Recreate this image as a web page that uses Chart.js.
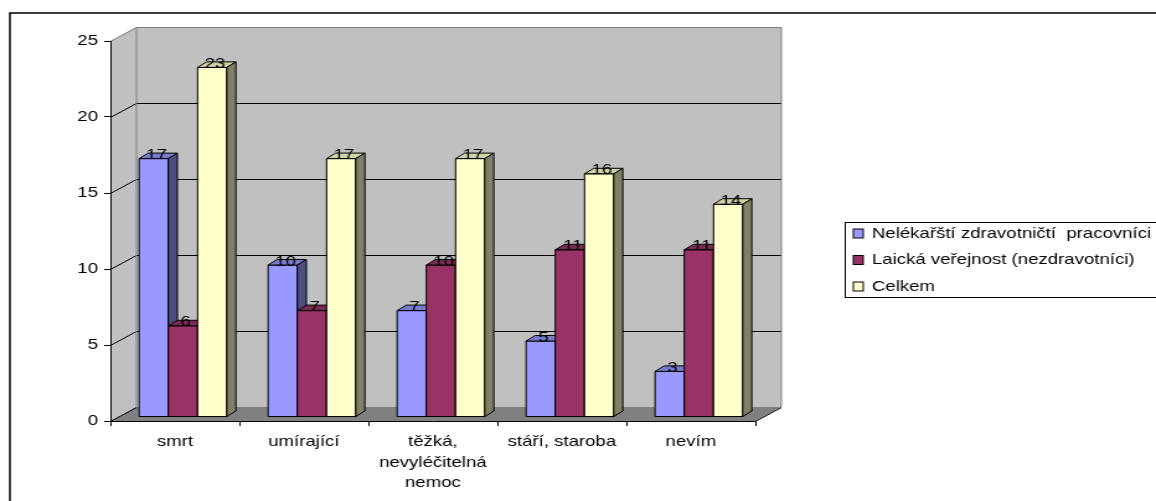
<!DOCTYPE html>
<html lang="cs">
<head>
<meta charset="utf-8">
<title>Asociace</title>
<script src="https://cdn.jsdelivr.net/npm/chart.js@4/dist/chart.umd.min.js"></script>
<style>
  html, body { margin: 0; padding: 0; background: #fff; overflow: hidden; }
  /* the chart is laid out on a narrower canvas and widened to the window */
  #wrap { width: 932px; height: 501px; transform: scaleX(1.2403); transform-origin: 0 0; }
  canvas { display: block; }
</style>
</head>
<body>
<div id="wrap"><canvas id="c" width="932" height="501"></canvas></div>
<script>
// ---- data ----
const categories = ['smrt', 'umírající', ['těžká,', 'nevyléčitelná', 'nemoc'], 'stáří, staroba', 'nevím'];
const seriesNames = ['Nelékařští zdravotničtí  pracovníci', 'Laická veřejnost (nezdravotníci)', 'Celkem'];
const zdravotnici = [17, 10, 7, 5, 3];
const verejnost = [6, 7, 10, 11, 11];
const celkem = [23, 17, 17, 16, 14];
const yTicks = [0, 5, 10, 15, 20, 25];

// ---- styling ----
const FONT = "'Liberation Sans', Arial, Helvetica, sans-serif";
const frontColors = ['#9999ff', '#993366', '#ffffcc'];
const topColors = ['#7a7acc', '#7a2952', '#d2d2a8'];
const sideColors = ['#4d4d80', '#4d1a33', '#808066'];
const WALL = { dx: 21, dy: -14 };       // depth of the plot box
const SHIFT = { dx: 6.5, dy: -4 };      // bars stand a little behind the front edge
const DEPTH = { dx: 7.3, dy: -5.5 };    // depth of a single column

function poly(ctx, pts, fill, stroke) {
  ctx.beginPath();
  ctx.moveTo(pts[0][0], pts[0][1]);
  for (let i = 1; i < pts.length; i++) ctx.lineTo(pts[i][0], pts[i][1]);
  ctx.closePath();
  if (fill) { ctx.fillStyle = fill; ctx.fill(); }
  if (stroke) { ctx.strokeStyle = stroke; ctx.lineWidth = 1; ctx.stroke(); }
}
function line(ctx, x1, y1, x2, y2, color) {
  ctx.beginPath();
  ctx.moveTo(x1, y1);
  ctx.lineTo(x2, y2);
  ctx.strokeStyle = color;
  ctx.lineWidth = 1;
  ctx.stroke();
}

const box3d = {
  id: 'box3d',
  beforeDraw(chart) {
    const { ctx, scales: { x, y } } = chart;
    const L = x.left, R = x.right;
    const T = y.getPixelForValue(yTicks[yTicks.length - 1]);
    const B = y.getPixelForValue(0);
    const dx = WALL.dx, dy = WALL.dy;
    ctx.save();
    ctx.fillStyle = '#fff';
    ctx.fillRect(0, 0, chart.width, chart.height);
    // frame around the whole chart
    ctx.strokeStyle = '#000';
    ctx.lineWidth = 1.5;
    ctx.strokeRect(8, 13, chart.width + 50, chart.height + 50);
    // walls and floor
    ctx.fillStyle = '#c0c0c0';
    ctx.fillRect(L + dx, T + dy, R - L, B - T);
    poly(ctx, [[L, T], [L + dx, T + dy], [L + dx, B + dy], [L, B]], '#c0c0c0');
    poly(ctx, [[L, B], [R, B], [R + dx, B + dy], [L + dx, B + dy]], '#808080');
    // grid lines on the back and side walls
    yTicks.forEach(v => {
      const py = Math.round(y.getPixelForValue(v)) + 0.5;
      if (v > 0 && v < yTicks[yTicks.length - 1]) {
        line(ctx, L + dx, py + dy, R + dx, py + dy, '#000');
        line(ctx, L, py, L + dx, py + dy, '#000');
      }
    });
    // wall edges
    const tp = Math.round(T) + 0.5;
    line(ctx, L + dx, tp + dy, R + dx, tp + dy, '#808080');
    line(ctx, L, tp, L + dx, tp + dy, '#808080');
    line(ctx, L + dx, tp + dy, L + dx, B + dy, '#808080');
    line(ctx, R + dx, tp + dy, R + dx, B + dy, '#808080');
    // floor edges
    const bp = Math.round(B) + 0.5;
    line(ctx, L, bp, L + dx, bp + dy, '#000');
    line(ctx, R, bp, R + dx, bp + dy, '#000');
    ctx.restore();
  },
  beforeDatasetsDraw(chart) {
    chart.ctx.save();
    chart.ctx.translate(SHIFT.dx, SHIFT.dy);
  },
  afterDatasetsDraw(chart) {
    const ctx = chart.ctx;
    const metas = chart.data.datasets.map((d, i) => chart.getDatasetMeta(i));
    // columns, one category at a time, series left to right
    for (let c = 0; c < categories.length; c++) {
      metas.forEach((meta, s) => {
        const bar = meta.data[c];
        const { x, y, base, width } = bar.getProps(['x', 'y', 'base', 'width'], true);
        const l = x - width / 2, r = x + width / 2;
        poly(ctx, [[l, y], [r, y], [r, base], [l, base]], frontColors[s], '#000');
        poly(ctx, [[l, y], [r, y], [r + DEPTH.dx, y + DEPTH.dy], [l + DEPTH.dx, y + DEPTH.dy]], topColors[s], '#000');
        poly(ctx, [[r, y], [r + DEPTH.dx, y + DEPTH.dy], [r + DEPTH.dx, base + DEPTH.dy], [r, base]], sideColors[s], '#000');
      });
    }
    // value labels
    ctx.font = '15px ' + FONT;
    ctx.fillStyle = '#000';
    ctx.textAlign = 'center';
    ctx.textBaseline = 'alphabetic';
    metas.forEach((meta, s) => {
      meta.data.forEach((bar, c) => {
        const { x, y } = bar.getProps(['x', 'y'], true);
        ctx.fillText(String(chart.data.datasets[s].data[c]), x + 2.2, y + 0.5);
      });
    });
    ctx.restore();
  },
  afterDraw(chart) {
    const ctx = chart.ctx;
    ctx.save();
    ctx.strokeStyle = '#000';
    ctx.lineWidth = 1;
    ctx.strokeRect(681.5, 222.5, 400, 75);
    const rows = [233.5, 260, 286.5];
    ctx.font = '15px ' + FONT;
    ctx.textAlign = 'left';
    ctx.textBaseline = 'middle';
    chart.data.datasets.forEach((ds, i) => {
      const cy = rows[i];
      ctx.fillStyle = ds.backgroundColor;
      ctx.fillRect(688, cy - 4.5, 8, 9);
      ctx.strokeRect(688, cy - 4.5, 8, 9);
      ctx.fillStyle = '#000';
      ctx.fillText(ds.label, 703, cy);
    });
    ctx.restore();
  }
};

Chart.defaults.font.family = FONT;
Chart.defaults.font.size = 15;
Chart.defaults.color = '#000';

new Chart(document.getElementById('c'), {
  type: 'bar',
  data: {
    labels: categories,
    datasets: [
      { label: seriesNames[0], data: zdravotnici, backgroundColor: frontColors[0] },
      { label: seriesNames[1], data: verejnost, backgroundColor: frontColors[1] },
      { label: seriesNames[2], data: celkem, backgroundColor: frontColors[2] }
    ]
  },
  options: {
    responsive: false,
    animation: false,
    events: [],
    layout: { padding: { left: 0, top: 41, right: 323, bottom: 0 } },
    datasets: {
      bar: { categoryPercentage: 0.68, barPercentage: 1, borderColor: '#000', borderWidth: 1, borderSkipped: false }
    },
    plugins: { legend: { display: false }, tooltip: { enabled: false } },
    scales: {
      x: {
        afterFit: s => { s.height = 80; },
        grid: { offset: true, drawOnChartArea: false, drawTicks: true, tickLength: 5, color: '#000', lineWidth: 1 },
        border: { display: true, color: '#000', width: 1 },
        ticks: { autoSkip: false, maxRotation: 0, minRotation: 0, padding: 6, color: '#000', font: { size: 15, lineHeight: 1.35 } }
      },
      y: {
        min: 0,
        max: 25,
        afterFit: s => { s.width = 89; },
        afterBuildTicks: s => { s.ticks = yTicks.map(v => ({ value: v })); },
        grid: { drawOnChartArea: false, drawTicks: true, tickLength: 5, color: '#000', lineWidth: 1 },
        border: { display: true, color: '#000', width: 1 },
        ticks: { padding: 5, color: '#000', font: { size: 15 } }
      }
    }
  },
  plugins: [box3d]
});
</script>
</body>
</html>
